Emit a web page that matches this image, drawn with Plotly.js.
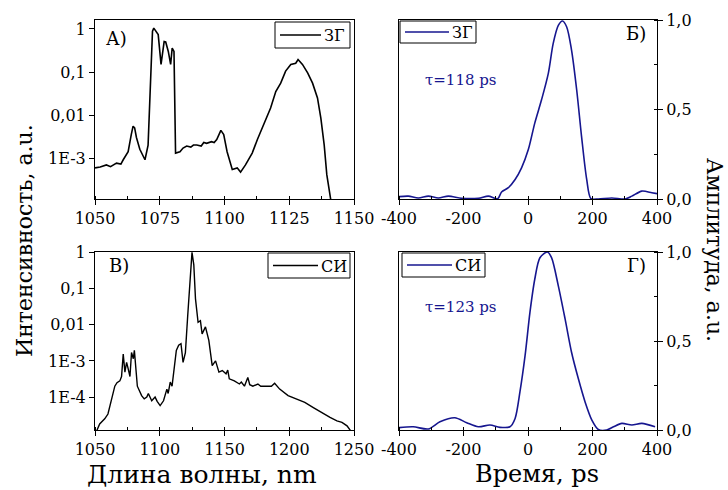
<!DOCTYPE html>
<html>
<head>
<meta charset="utf-8">
<script src="https://cdn.plot.ly/plotly-3.0.1.min.js"></script>
<style>html,body{margin:0;padding:0;background:#fff;}#chart{width:728px;height:490px;}</style>
</head>
<body>
<div id="chart"></div>
<script>
// ---- Data ----
// Panel А: spectrum ЗГ
const wlSH = [1050,1052,1054.4,1056,1058.3,1060,1060.9,1062.8,1064,1064.7,1065.3,1066,1067.3,1068.5,1069.3,1070.5,1071.4,1072.2,1072.7,1073.5,1074.4,1075.5,1076.7,1077.3,1078.3,1079.2,1079.8,1080.5,1081.1,1082.8,1084,1085.4,1087,1088,1089.3,1091,1092,1093.1,1095,1096,1097,1098.6,1099.7,1101,1103,1104.9,1106.2,1108.1,1110.7,1112.7,1115.2,1117.8,1119.8,1121.7,1123.6,1125.6,1127.5,1128.4,1130.1,1132.1,1134,1135.9,1137.2,1138.5,1139.5,1141.1];
const intSH = [5.9e-4,6.2e-4,6.9e-4,6.3e-4,7.6e-4,7.2e-4,9.1e-4,1.4e-3,3.5e-3,5.5e-3,5.0e-3,3.0e-3,1.6e-3,1.1e-3,9.1e-4,2.0e-3,0.05,0.89,1.05,0.89,0.74,0.15,0.51,0.5,0.30,0.15,0.36,0.30,1.3e-3,1.4e-3,1.7e-3,1.9e-3,1.8e-3,2.0e-3,2.0e-3,1.9e-3,2.3e-3,2.2e-3,2.4e-3,2.3e-3,2.7e-3,4.4e-3,3.5e-3,1.4e-3,5.4e-4,5.9e-4,4.7e-4,6.9e-4,1.3e-3,2.7e-3,6.0e-3,0.0145,0.035,0.055,0.105,0.15,0.16,0.195,0.15,0.095,0.055,0.025,8.5e-3,2.0e-3,4.1e-4,1.0e-4];

// Panel В: spectrum СИ
const wlSC = [1049.7,1051,1053.6,1057.5,1060,1062.7,1065.3,1067,1069.2,1070.5,1071.8,1073.1,1074.4,1075.5,1077,1078.2,1079.6,1080.4,1081.7,1082.7,1086,1088,1090,1091.2,1093.8,1096.4,1098,1100.3,1102.9,1105.5,1106.5,1108.1,1109.5,1110.7,1112.8,1114.6,1116.4,1118,1119.8,1121.6,1123.7,1124.9,1126.3,1127.6,1129.6,1131.4,1132.7,1135.3,1137.9,1140.5,1143.1,1145.7,1148.3,1151.2,1152.5,1153.7,1157.6,1161.5,1163,1165.4,1168,1169.5,1171.9,1175.8,1178,1180.9,1184,1186.2,1188.7,1192.6,1199.1,1205.6,1212,1218.6,1225.1,1231.5,1236.8,1240.7,1244.6,1248.4,1250];
const intSC = [1.3e-5,1.1e-5,1.8e-5,2.5e-5,3.4e-5,8.9e-5,2.0e-4,2.5e-4,2.8e-4,3.7e-4,1.55e-3,4.9e-4,9.1e-4,6.3e-4,3.7e-4,1.7e-3,1.15e-3,1.95e-3,3.7e-4,2.0e-4,1.1e-4,8.9e-5,1.0e-4,1.26e-4,7.9e-5,1.0e-4,7.6e-5,5.8e-5,7.9e-5,1.66e-4,1.26e-4,2.6e-4,2.0e-4,4.9e-4,1.95e-3,2.7e-3,3.0e-3,9.1e-4,1.7e-3,0.018,0.36,1.0,0.45,0.052,0.0117,0.0129,5.6e-3,8.7e-3,3.7e-3,7.4e-4,1.0e-3,4.9e-4,5.4e-4,4.4e-4,5.6e-4,3.2e-4,2.8e-4,2.3e-4,2.6e-4,2.0e-4,3.5e-4,2.2e-4,2.0e-4,2.3e-4,2.0e-4,2.0e-4,2.0e-4,2.0e-4,2.4e-4,1.66e-4,1.1e-4,8.7e-5,7.1e-5,5.1e-5,3.7e-5,2.75e-5,2.2e-5,2.0e-5,1.6e-5,1.05e-5,1.0e-5];

// Panel Б: pulse ЗГ
const tSH = [-402,-371,-340,-309,-278,-247,-206,-154,-123,-94,-82,-61,-40,-20,1,21,42,63,78,94,107,120,135,151,166,182,195,218,260,301,322,353,384,400];
const ampSH = [0.013,0.016,0.006,0.016,0.006,0.016,0.004,0.004,0.016,0.002,0.039,0.063,0.109,0.174,0.276,0.424,0.554,0.702,0.868,0.97,0.994,0.961,0.832,0.609,0.35,0.109,0.002,0,0.006,0,0.016,0.044,0.035,0.03];

// Panel Г: pulse СИ
const tSC = [-402,-356,-309,-273,-227,-190,-154,-118,-87,-56,-40,-25,-9,6,21,37,60,73,94,115,135,156,177,198,218,244,265,291,322,353,394];
const ampSC = [0.013,0.018,0.006,0.046,0.069,0.041,0.018,0.028,0.015,0.018,0.065,0.214,0.419,0.661,0.847,0.968,1.0,0.968,0.81,0.624,0.437,0.289,0.158,0.056,0.003,0,0.018,0.037,0.028,0.037,0.018];

const logTicksA = [1,0.1,0.01,0.001];
const logTextA = ['1','0,1','0,01','1E-3'];
const logTicksB = [1,0.1,0.01,0.001,0.0001];
const logTextB = ['1','0,1','0,01','1E-3','1E-4'];
const linTicks = [0,0.5,1];
const linText = ['0,0','0,5','1,0'];
const timeTicks = [-400,-200,0,200,400];
const timeText = ['-400','-200','0','200','400'];
const wlTicksA = [1050,1075,1100,1125,1150];
const wlTicksB = [1050,1100,1150,1200,1250];

const labelSH = 'ЗГ';
const labelSC = 'СИ';

// ---- Styling ----
const FONT = 'DejaVu Serif';
const BLUE = '#16168f';
const W = 728, H = 490;
const px = v => v / W;
const py = v => 1 - v / H;

const traces = [
  {x: wlSH, y: intSH, xaxis:'x', yaxis:'y', mode:'lines', name: labelSH, line:{color:'#000', width:1.6}},
  {x: tSH, y: ampSH, xaxis:'x2', yaxis:'y2', mode:'lines', name: labelSH, line:{color:BLUE, width:1.6, shape:'spline', smoothing:0.8}},
  {x: wlSC, y: intSC, xaxis:'x3', yaxis:'y3', mode:'lines', name: labelSC, line:{color:'#000', width:1.4}},
  {x: tSC, y: ampSC, xaxis:'x4', yaxis:'y4', mode:'lines', name: labelSC, line:{color:BLUE, width:1.6, shape:'spline', smoothing:0.8}}
];

const axBase = {
  showline:true, linecolor:'#000', linewidth:1, mirror:true,
  ticks:'outside', ticklen:5, tickcolor:'#000', tickwidth:1,
  showgrid:false, zeroline:false, fixedrange:true,
  tickfont:{family:FONT, size:16, color:'#000'}
};
const domXL = [px(95), px(354)];
const domXR = [px(399), px(657)];
const domYT = [py(199), py(20)];
const domYB = [py(430), py(252)];

const ann = (text, x, y, opts) => Object.assign({
  text, x: px(x), y: py(y), xref:'paper', yref:'paper', showarrow:false,
  font:{family:FONT, size:18, color:'#000'}, xanchor:'left', yanchor:'middle'
}, opts || {});

// Legend boxes (drawn as boxes, sample lines and labels)
const legends = [
  {x0:275, x1:350, y0:22, y1:48, l0:280, l1:321, label:labelSH, color:'#000'},
  {x0:400, x1:476, y0:21, y1:43, l0:405, l1:449, label:labelSH, color:BLUE},
  {x0:268, x1:350, y0:253, y1:278, l0:273, l1:318, label:labelSC, color:'#000'},
  {x0:402, x1:485, y0:253, y1:277, l0:407, l1:452, label:labelSC, color:BLUE}
];
const shapes = [];
const legAnn = [];
legends.forEach(L => {
  shapes.push({type:'rect', xref:'paper', yref:'paper', x0:px(L.x0), x1:px(L.x1), y0:py(L.y0), y1:py(L.y1), line:{color:'#000', width:1}, fillcolor:'#fff'});
  const ym = (L.y0 + L.y1) / 2;
  shapes.push({type:'line', xref:'paper', yref:'paper', x0:px(L.l0), x1:px(L.l1), y0:py(ym), y1:py(ym), line:{color:L.color, width:1.6}});
  legAnn.push(ann(L.label, L.l1 + 1, ym + 0.5, {font:{family:FONT, size:16, color:'#000'}}));
});

const layout = {
  width: W, height: H,
  margin:{l:0, r:0, t:0, b:0},
  paper_bgcolor:'#fff', plot_bgcolor:'#fff',
  showlegend:false,
  font:{family:FONT, color:'#000'},
  xaxis: Object.assign({}, axBase, {domain:domXL, anchor:'y', range:[1050,1150], tickvals:wlTicksA, minor:{ticks:'inside', ticklen:3, dtick:12.5, tick0:1050, tickcolor:'#000'}}),
  yaxis: Object.assign({}, axBase, {domain:domYT, anchor:'x', type:'log', range:[-3.953,0.209], tickvals:logTicksA, ticktext:logTextA}),
  xaxis2: Object.assign({}, axBase, {domain:domXR, anchor:'y2', range:[-400,400], tickvals:timeTicks, ticktext:timeText, minor:{ticks:'inside', ticklen:3, dtick:100, tick0:-400, tickcolor:'#000'}}),
  yaxis2: Object.assign({}, axBase, {domain:domYT, anchor:'x2', side:'right', range:[0,1], tickvals:linTicks, ticktext:linText, minor:{ticks:'inside', ticklen:3, dtick:0.25, tick0:0, tickcolor:'#000'}}),
  xaxis3: Object.assign({}, axBase, {domain:domXL, anchor:'y3', range:[1050,1250], tickvals:wlTicksB, minor:{ticks:'inside', ticklen:3, dtick:25, tick0:1050, tickcolor:'#000'}}),
  yaxis3: Object.assign({}, axBase, {domain:domYB, anchor:'x3', type:'log', range:[-4.91,0.01], tickvals:logTicksB, ticktext:logTextB}),
  xaxis4: Object.assign({}, axBase, {domain:domXR, anchor:'y4', range:[-400,400], tickvals:timeTicks, ticktext:timeText, minor:{ticks:'inside', ticklen:3, dtick:100, tick0:-400, tickcolor:'#000'}}),
  yaxis4: Object.assign({}, axBase, {domain:domYB, anchor:'x4', side:'right', range:[0,1], tickvals:linTicks, ticktext:linText, minor:{ticks:'inside', ticklen:3, dtick:0.25, tick0:0, tickcolor:'#000'}}),
  shapes: shapes,
  annotations: legAnn.concat([
    ann('А)', 104, 38),
    ann('Б)', 648, 34, {xanchor:'right'}),
    ann('В)', 107, 265),
    ann('Г)', 648, 265, {xanchor:'right'}),
    ann('τ=118 ps', 423, 80, {font:{family:FONT, size:15, color:BLUE}}),
    ann('τ=123 ps', 423, 307, {font:{family:FONT, size:15, color:BLUE}}),
    ann('Длина волны, nm', 202, 474, {xanchor:'center', font:{family:FONT, size:25, color:'#000'}}),
    ann('Время, ps', 537, 474, {xanchor:'center', font:{family:FONT, size:24, color:'#000'}}),
    ann('Интенсивность, a.u.', 24, 241, {xanchor:'center', textangle:-90, font:{family:FONT, size:22, color:'#000'}}),
    ann('Амплитуда, a.u.', 715, 250, {xanchor:'center', textangle:90, font:{family:FONT, size:22, color:'#000'}})
  ])
};

Plotly.newPlot('chart', traces, layout, {staticPlot:true, displayModeBar:false});
</script>
</body>
</html>
